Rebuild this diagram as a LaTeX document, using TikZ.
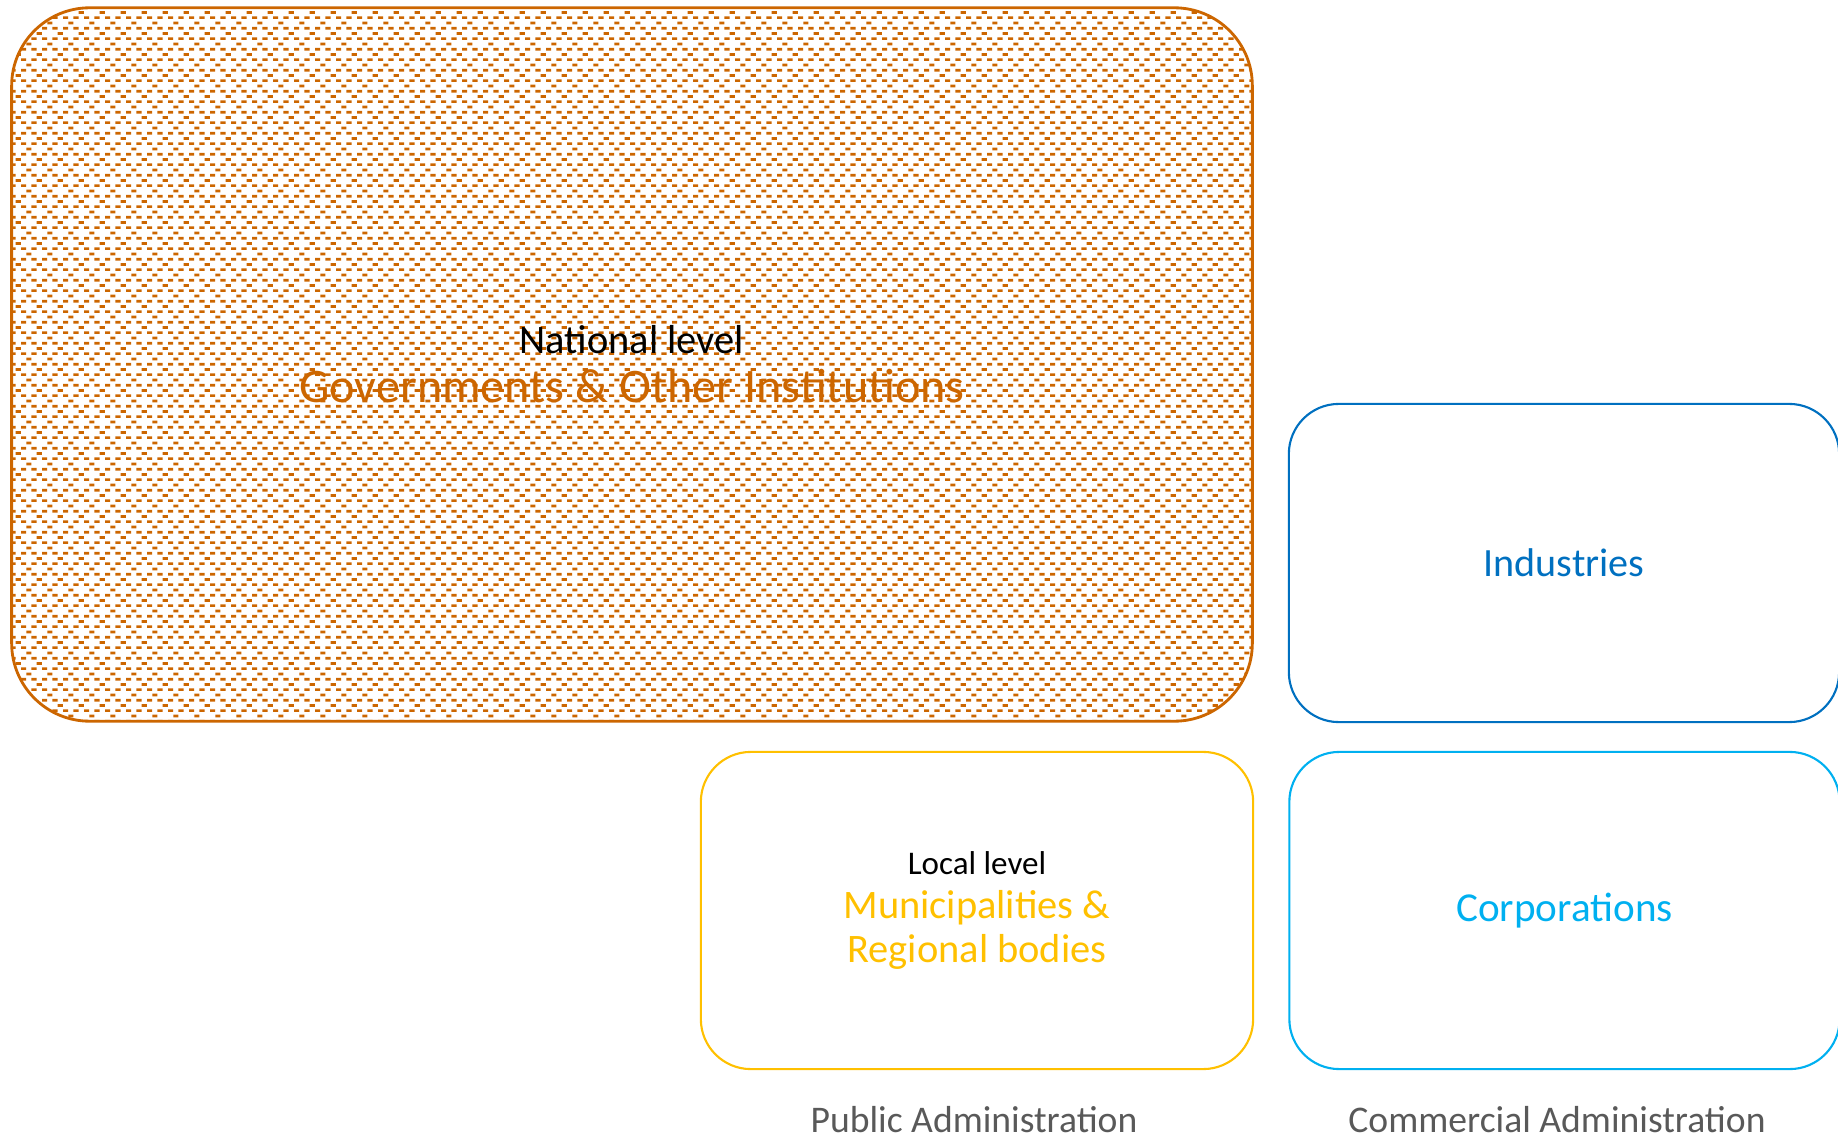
\documentclass[tikz,border=0pt]{standalone}
\usepackage{fontspec}
\setmainfont{Carlito}
\usepackage{tikz}
\usetikzlibrary{patterns}

\definecolor{govorange}{RGB}{204,102,0}
\definecolor{localyellow}{RGB}{255,192,0}
\definecolor{indublue}{RGB}{0,112,192}
\definecolor{corpblue}{RGB}{0,176,240}
\definecolor{admingray}{RGB}{89,89,89}

% dashed brick fill of the national box
\pgfdeclarepatternformonly{govdashes}{\pgfpointorigin}{\pgfpoint{6.07pt}{6.07pt}}{\pgfpoint{6.07pt}{6.07pt}}{%
  \pgfpathrectangle{\pgfpoint{0pt}{0pt}}{\pgfpoint{1.52pt}{0.8pt}}
  \pgfpathrectangle{\pgfpoint{3.035pt}{0pt}}{\pgfpoint{1.52pt}{0.8pt}}
  \pgfpathrectangle{\pgfpoint{0pt}{3.035pt}}{\pgfpoint{1.52pt}{0.8pt}}
  \pgfpathrectangle{\pgfpoint{3.035pt}{3.035pt}}{\pgfpoint{1.52pt}{0.8pt}}
  \pgfpathrectangle{\pgfpoint{4.55pt}{1.52pt}}{\pgfpoint{1.55pt}{0.8pt}}
  \pgfpathrectangle{\pgfpoint{1.56pt}{4.55pt}}{\pgfpoint{1.45pt}{0.8pt}}
  \pgfusepath{fill}}

\begin{document}
\begin{tikzpicture}[x=0.01cm,y=0.01cm,
  box/.style={draw,rounded corners=0.5cm,line width=0.6pt,inner sep=0pt,align=center,
    minimum width=5.50cm,minimum height=3.17cm},
  adminlabel/.style={anchor=base,text=admingray,font=\fontsize{10.7}{12}\selectfont}]
  \useasboundingbox (0,0) rectangle (1838,1138);

  % Public side
  \node[box,draw=govorange,line width=0.8pt,rounded corners=0.78cm,
        minimum width=12.40cm,minimum height=7.13cm,
        pattern=govdashes,pattern color=govorange,text=govorange,
        font=\fontsize{13.7}{13.94}\selectfont] (national) at (632,773.5)
    {{\color{black}\fontsize{11.5}{14}\selectfont National level}\\ Governments \& Other Institutions};
  \node[box,draw=localyellow,minimum width=5.52cm,text=localyellow,
        font=\fontsize{11.5}{12.6}\selectfont] (local) at (977,227.5)
    {{\color{black}\fontsize{9.4}{12}\selectfont Local level}\\ Municipalities \&\\ Regional bodies};

  % Commercial side
  \node[box,draw=indublue,text=indublue,minimum height=3.18cm,
        font=\fontsize{11.4}{12}\selectfont] (industries) at (1564,575) {Industries};
  \node[box,draw=corpblue,text=corpblue,
        font=\fontsize{11.7}{12}\selectfont] (corporations) at (1564.5,227.5) {Corporations};

  % Column labels
  \node[adminlabel] (public) at (974,6) {Public Administration};
  \node[adminlabel] (commercial) at (1557,6) {Commercial Administration};
\end{tikzpicture}
\end{document}
